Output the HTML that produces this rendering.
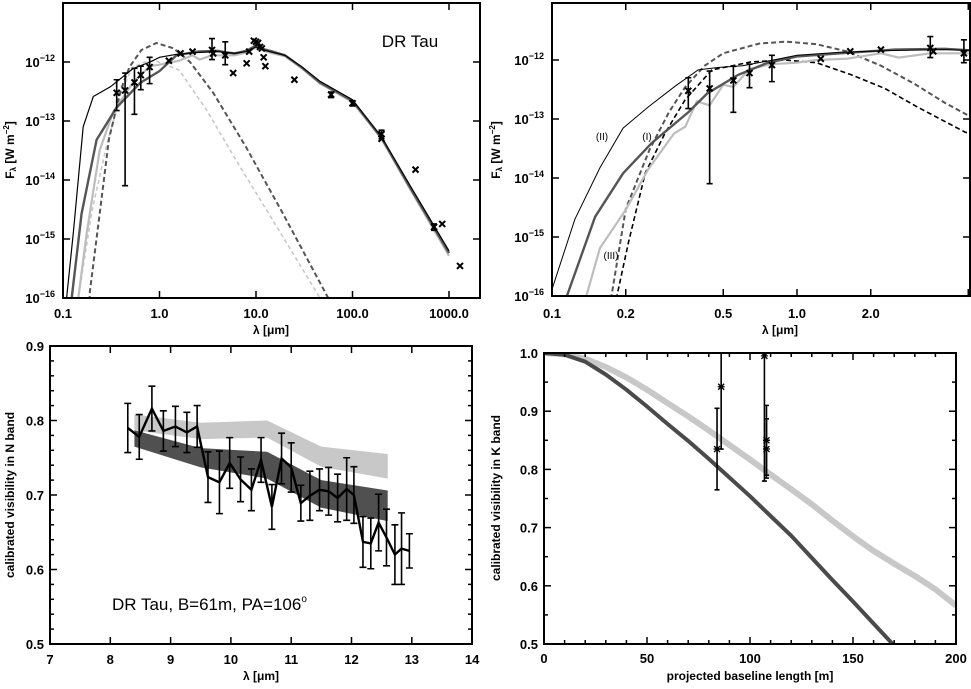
<!DOCTYPE html>
<html><head><meta charset="utf-8"><style>
body{margin:0;background:#fff}
svg{display:block}
text{font-family:"Liberation Sans",sans-serif;fill:#000}
.tk{font-size:13px;font-weight:bold}
.ti{font-size:12px;font-weight:bold}
</style></head><body>
<svg id="fig" width="971" height="689" viewBox="0 0 971 689" xmlns="http://www.w3.org/2000/svg">
<defs>
<clipPath id="c1"><rect x="63" y="3" width="417" height="295"/></clipPath>
<clipPath id="c2"><rect x="552" y="3" width="418" height="293"/></clipPath>
<clipPath id="c3"><rect x="50" y="346" width="422" height="298"/></clipPath>
<clipPath id="c4"><rect x="544" y="353" width="412" height="291"/></clipPath>
</defs>
</svg>
<script>
// ---------- DATA ----------
const sedLam = [0.36,0.44,0.55,0.64,0.79,1.25,1.65,2.2,3.5,3.6,4.8,5.8,8,8.5,9.5,10,10.5,11,11.5,12,12.5,25,60,100,200,200,450,700,850,1300];
const sedFlux = [3e-13,3.3e-13,4.5e-13,6e-13,8.2e-13,1.05e-12,1.4e-12,1.5e-12,1.6e-12,1.4e-12,1.3e-12,6.5e-13,9.5e-13,1.5e-12,2.3e-12,2.2e-12,2.1e-12,1.8e-12,1.7e-12,1.2e-12,8.5e-13,5e-13,2.8e-13,2e-13,6e-14,5e-14,1.5e-14,1.6e-15,1.8e-15,3.5e-16];
const sedErrLo = [1.5e-13,8e-15,1.3e-13,3.4e-13,4.3e-13,null,null,null,1.1e-12,null,9e-13,null,null,null,null,null,null,null,null,null,null,null,2.5e-13,1.8e-13,5e-14,null,null,1.4e-15,null,null];
const sedErrHi = [5e-13,6.5e-13,7.8e-13,8.5e-13,1.2e-12,null,null,null,2.5e-12,null,2.2e-12,null,null,null,null,null,null,null,null,null,null,null,3.1e-13,2.2e-13,7e-14,null,null,1.8e-15,null,null];

// panel 1 model lines
const p1IILam = [0.1,0.109,0.128,0.162,0.206,0.31,0.53,0.8,1.0,1.5,2.5,4,5,6,8,10,12,15,20,30,46,100,200,400,1000];
const p1II  = [1e-17,1e-16,1.26e-15,8e-14,2.6e-13,3.8e-13,7.7e-13,1e-12,1.2e-12,1.35e-12,1.45e-12,1.5e-12,1.45e-12,1.4e-12,1.5e-12,1.8e-12,1.6e-12,1.45e-12,1.3e-12,8.3e-13,4.7e-13,2.3e-13,5.4e-14,7.8e-15,6.3e-16];
const p1ILam = [0.115,0.123,0.156,0.223,0.36,0.63,1.0,1.5,2.5,4,5,6,8,10,12,15,20,30,46,100,200,400,1000];
const p1I   = [1e-17,1e-16,2.7e-15,4.8e-14,1.7e-13,4.4e-13,7e-13,1.3e-12,1.5e-12,1.55e-12,1.45e-12,1.4e-12,1.55e-12,1.9e-12,1.65e-12,1.5e-12,1.3e-12,8e-13,4.5e-13,2.2e-13,5.2e-14,7.2e-15,5.8e-16];
const p1IIILam = [0.135,0.144,0.176,0.24,0.33,0.53,0.8,1.0,1.6,2.2,2.6,3.5,5,6,8,10,12,15,20,30,46,100,200,400,1000];
const p1III = [1e-17,1e-16,1.26e-15,3.2e-14,1.4e-13,4.5e-13,8.5e-13,9e-13,1.05e-12,1.3e-12,1.1e-12,1.3e-12,1.3e-12,1.3e-12,1.45e-12,1.75e-12,1.55e-12,1.4e-12,1.25e-12,7.8e-13,4.3e-13,2.1e-13,5e-14,6.8e-15,5.2e-16];

// panel 2 model lines
const modLam = [0.1,0.124,0.157,0.195,0.247,0.318,0.395,0.48,0.6,0.8,1.0,1.5,2.5,4,5.2];
const modII  = [1.3e-16,2e-15,1.5e-14,7e-14,1.6e-13,3.6e-13,6.8e-13,7.5e-13,8e-13,1e-12,1.2e-12,1.35e-12,1.45e-12,1.5e-12,1.45e-12];
const modILam = [0.115,0.15,0.195,0.255,0.36,0.43,0.575,0.76,1.0,1.5,2.5,4,5.2];
const modI   = [1e-16,2.2e-15,1.2e-14,3.9e-14,1.3e-13,2.7e-13,5.6e-13,9e-13,1.15e-12,1.3e-12,1.5e-12,1.55e-12,1.45e-12];
const modIIILam = [0.138,0.157,0.2,0.247,0.315,0.35,0.39,0.44,0.5,0.55,0.64,0.78,1.0,1.2,1.6,2.2,2.6,3.5,5.2];
const modIII = [1e-16,6.5e-16,2.9e-15,1.4e-14,5.7e-14,7.4e-14,2e-13,1.7e-13,3.8e-13,3.5e-13,7e-13,8.5e-13,9e-13,1e-12,1.05e-12,1.3e-12,1.1e-12,1.3e-12,1.3e-12];

const dashDarkLam = [0.18,0.19,0.24,0.3,0.4,0.49,0.65,0.93,1.4,2.07,3.6,7.9,19,56];
const dashDark  = [1e-17,1.3e-16,2.7e-15,5e-14,3.5e-13,8.3e-13,1.6e-12,2.1e-12,1.7e-12,1e-12,3e-13,3.6e-14,2.7e-15,1e-16];
const dashLightLam = [0.135,0.144,0.2,0.28,0.4,0.52,0.7,0.9,1.6,3.1,6.8,17.8,46];
const dashLight = [1e-17,1e-16,3e-15,3.6e-14,3e-13,8e-13,1e-12,1.05e-12,7.3e-13,1.5e-13,1.7e-14,1.3e-15,1e-16];

const p2DashBlackLam = [0.175,0.184,0.205,0.24,0.289,0.349,0.449,0.65,0.89,1.2,1.67,2.28,3.1,4.85,5.2];
const p2DashBlack = [1e-17,1e-16,8e-16,1.2e-14,5.7e-14,2.1e-13,6.8e-13,9.3e-13,1e-12,9e-13,5.6e-13,3.3e-13,1.6e-13,6e-14,5.5e-14];
const p2DashGrayLam = [0.165,0.175,0.2,0.25,0.3,0.35,0.42,0.5,0.7,0.9,1.2,1.6,2.2,3,4,5.2];
const p2DashGray = [1e-17,1e-16,3e-15,3e-14,1.3e-13,3.5e-13,8e-13,1.3e-12,1.9e-12,2.05e-12,1.85e-12,1.4e-12,8e-13,4e-13,1.9e-13,1.05e-13];

const nLam = [8.29,8.48,8.69,8.88,9.08,9.27,9.44,9.62,9.81,9.98,10.16,10.34,10.50,10.68,10.84,11.0,11.16,11.31,11.47,11.62,11.77,11.92,12.04,12.19,12.32,12.45,12.58,12.72,12.83,12.96];
const nVis = [0.790,0.778,0.816,0.786,0.792,0.784,0.792,0.724,0.717,0.743,0.721,0.707,0.747,0.684,0.749,0.737,0.689,0.699,0.707,0.705,0.696,0.708,0.700,0.637,0.635,0.663,0.643,0.620,0.628,0.625];
const nErr = [0.033,0.03,0.03,0.027,0.027,0.027,0.028,0.034,0.042,0.034,0.03,0.028,0.03,0.03,0.034,0.033,0.024,0.033,0.028,0.032,0.032,0.042,0.038,0.034,0.034,0.038,0.038,0.04,0.048,0.023];
const bandLam = [8.4,9.5,10.6,11.5,12.6];
const lightHi = [0.808,0.797,0.800,0.765,0.755];
const lightLo = [0.787,0.775,0.777,0.738,0.722];
const darkHi = [0.787,0.763,0.758,0.720,0.706];
const darkLo = [0.765,0.737,0.722,0.683,0.665];

const kBase = [0,10,20,30,40,50,60,70,80,90,100,110,120,130,140,150,160,170,180,190,200];
const kDark = [1.0,0.997,0.985,0.963,0.937,0.908,0.878,0.849,0.818,0.786,0.754,0.72,0.686,0.648,0.61,0.573,0.535,0.497,0.46,0.42,0.38];
const kLight = [1.0,0.998,0.99,0.976,0.958,0.937,0.914,0.891,0.867,0.842,0.817,0.791,0.766,0.74,0.712,0.685,0.66,0.638,0.617,0.594,0.566];
const kPtB = [84,86,107,108,108];
const kPtV = [0.835,0.942,0.995,0.85,0.835];
const kPtLo = [0.765,0.835,0.78,0.79,0.785];
const kPtHi = [0.905,1.05,1.05,0.91,0.887];

// ---------- helpers ----------
const NS='http://www.w3.org/2000/svg';
const svg=document.getElementById('fig');
function mk(tag,attrs,parent){const e=document.createElementNS(NS,tag);for(const k in attrs)e.setAttribute(k,attrs[k]);(parent||svg).appendChild(e);return e;}
const L=Math.log10;
const sx1=l=>63+(L(l)+1)*96.5, sy1=f=>62+(-12-L(f))*59;
const sx2=l=>552+(L(l)+1)*245, sy2=f=>60+(-12-L(f))*59;
const sx3=l=>50+(l-7)*60.3, sy3=v=>346+(0.9-v)*745;
const sx4=b=>544+b*2.06, sy4=v=>644-(v-0.5)*582;
function pathOf(xs,ys,fx,fy){return xs.map((x,i)=>(i?'L':'M')+fx(x).toFixed(1)+','+fy(ys[i]).toFixed(1)).join('');}
function box(x0,y0,x1,y1,name){const r=mk('rect',{x:x0,y:y0,width:x1-x0,height:y1-y0,fill:'none',stroke:'#000','stroke-width':2});}
function tickX(px,y0,y1,len){mk('line',{x1:px,x2:px,y1:y1,y2:y1-len,stroke:'#000','stroke-width':1.5});mk('line',{x1:px,x2:px,y1:y0,y2:y0+len,stroke:'#000','stroke-width':1.5});}
function tickY(py,x0,x1,len){mk('line',{x1:x0,x2:x0+len,y1:py,y2:py,stroke:'#000','stroke-width':1.5});mk('line',{x1:x1,x2:x1-len,y1:py,y2:py,stroke:'#000','stroke-width':1.5});}
function txt(x,y,s,cls,anchor,name){const t=mk('text',{x:x,y:y,'class':cls,'text-anchor':anchor||'middle'});t.textContent=s;return t;}
function powLabel(x,y,e,name){const t=mk('text',{x:x,y:y,'class':'tk','text-anchor':'end'});
 const a=mk('tspan',{},t);a.textContent='10';const b=mk('tspan',{dy:-6,'font-size':'9px'},t);b.textContent='\u2212'+e;}
function vtitle(x,y,s,name){const t=mk('text',{x:x,y:y,'class':'ti','text-anchor':'middle',transform:'rotate(-90 '+x+' '+y+')'});t.textContent=s;return t;}
function cross(g,x,y,s){mk('path',{d:`M${x-s},${y-s}L${x+s},${y+s}M${x-s},${y+s}L${x+s},${y-s}`,stroke:'#000','stroke-width':2},g);}
function ebar(g,x,y0,y1,c){mk('path',{d:`M${x},${y0}L${x},${y1}M${x-c},${y0}L${x+c},${y0}M${x-c},${y1}L${x+c},${y1}`,stroke:'#000','stroke-width':1.6,fill:'none'},g);}

// ---------- Panel 1 ----------
{
 const g=mk('g',{'clip-path':'url(#c1)'});
 
 
 let p;
 p=mk('path',{d:pathOf(dashLightLam,dashLight,sx1,sy1),stroke:'#c8c8c8','stroke-width':1.6,fill:'none','stroke-dasharray':'4,3'},g);
 
 p=mk('path',{d:pathOf(dashDarkLam,dashDark,sx1,sy1),stroke:'#555','stroke-width':2,fill:'none','stroke-dasharray':'5,3'},g);
 
 p=mk('path',{d:pathOf(p1IIILam,p1III,sx1,sy1),stroke:'#bdbdbd','stroke-width':2.2,fill:'none'},g);
 
 p=mk('path',{d:pathOf(p1ILam,p1I,sx1,sy1),stroke:'#555','stroke-width':2.4,fill:'none'},g);
 
 p=mk('path',{d:pathOf(p1IILam,p1II,sx1,sy1),stroke:'#000','stroke-width':1.2,fill:'none'},g);
 
 sedLam.forEach((l,i)=>{const x=sx1(l);if(sedErrLo[i])ebar(g,x,sy1(sedErrLo[i]),sy1(sedErrHi[i]),3);cross(g,x,sy1(sedFlux[i]),3);});
 box(63,3,480,298,'sed-frame');
 [0.1,1,10,100,1000].forEach((l,i)=>{tickX(sx1(l),3,298,7);txt(sx1(l),318,['0.1','1.0','10.0','100.0','1000.0'][i],'tk','middle','x-tick-label');});
 [12,13,14,15,16].forEach(e=>{tickY(sy1(Math.pow(10,-e)),63,480,7);powLabel(55,sy1(Math.pow(10,-e))+5,e,'y-tick-label');});
 txt(271,334,'\u03bb  [\u03bcm]','ti','middle','x-axis-title');
 const t=vtitle(14,150,'','y-axis-title');const a=mk('tspan',{},t);a.textContent='F';const b=mk('tspan',{'font-size':'8px',dy:2},t);b.textContent='\u03bb';const c=mk('tspan',{dy:-2},t);c.textContent=' [W m';const d=mk('tspan',{dy:-5,'font-size':'8px'},t);d.textContent='\u22122';const e=mk('tspan',{dy:5},t);e.textContent=']';
 const lab=txt(410,47,'DR Tau','','middle','object-label');lab.setAttribute('font-size','17');
}
// ---------- Panel 2 ----------
{
 const g=mk('g',{'clip-path':'url(#c2)'});
 
 
 let p;
 p=mk('path',{d:pathOf(p2DashGrayLam,p2DashGray,sx2,sy2),stroke:'#555','stroke-width':2,fill:'none','stroke-dasharray':'5,3'},g);
 
 p=mk('path',{d:pathOf(p2DashBlackLam,p2DashBlack,sx2,sy2),stroke:'#000','stroke-width':1.6,fill:'none','stroke-dasharray':'5,3'},g);
 
 p=mk('path',{d:pathOf(modIIILam,modIII,sx2,sy2),stroke:'#bdbdbd','stroke-width':2.2,fill:'none'},g);
 
 p=mk('path',{d:pathOf(modILam,modI,sx2,sy2),stroke:'#555','stroke-width':2.4,fill:'none'},g);
 
 p=mk('path',{d:pathOf(modLam,modII,sx2,sy2),stroke:'#000','stroke-width':1,fill:'none'},g);
 
 sedLam.forEach((l,i)=>{if(l>6)return;const x=sx2(l);if(sedErrLo[i])ebar(g,x,sy2(sedErrLo[i]),sy2(sedErrHi[i]),3);cross(g,x,sy2(sedFlux[i]),3);});
 box(552,3,970,296,'sed-zoom-frame');
 [0.1,0.2,0.5,1,2,5].forEach((l,i)=>{tickX(sx2(l),3,296,7);if(i<5)txt(sx2(l),318,['0.1','0.2','0.5','1.0','2.0'][i],'tk','middle','x-tick-label');});
 [12,13,14,15,16].forEach(e=>{tickY(sy2(Math.pow(10,-e)),552,970,7);powLabel(544,sy2(Math.pow(10,-e))+5,e,'y-tick-label');});
 txt(780,334,'\u03bb  [\u03bcm]','ti','middle','x-axis-title');
 const t=vtitle(500,150,'','y-axis-title');const a=mk('tspan',{},t);a.textContent='F';const b=mk('tspan',{'font-size':'8px',dy:2},t);b.textContent='\u03bb';const c=mk('tspan',{dy:-2},t);c.textContent=' [W m';const d=mk('tspan',{dy:-5,'font-size':'8px'},t);d.textContent='\u22122';const e=mk('tspan',{dy:5},t);e.textContent=']';
 [['(II)',602,140],['(I)',647,140],['(III)',611,259]].forEach(v=>{const q=txt(v[1],v[2],v[0],'','middle','model-label');q.setAttribute('font-size','10');q.setAttribute('fill','#999');});
}
// ---------- Panel 3 ----------
{
 const g=mk('g',{'clip-path':'url(#c3)'});
 
 
 let p;
 p=mk('path',{d:pathOf(bandLam,lightHi,sx3,sy3)+pathOf(bandLam.slice().reverse(),lightLo.slice().reverse(),sx3,sy3).replace('M','L')+'Z',fill:'#c8c8c8'},g);
 
 p=mk('path',{d:pathOf(bandLam,darkHi,sx3,sy3)+pathOf(bandLam.slice().reverse(),darkLo.slice().reverse(),sx3,sy3).replace('M','L')+'Z',fill:'#505050'},g);
 
 nLam.forEach((l,i)=>ebar(g,sx3(l),sy3(nVis[i]-nErr[i]),sy3(nVis[i]+nErr[i]),3.5));
 p=mk('path',{d:pathOf(nLam,nVis,sx3,sy3),stroke:'#000','stroke-width':2.4,fill:'none'},g);
 
 box(50,346,472,644,'n-band-frame');
 for(let v=7;v<=14;v++){tickX(sx3(v),346,644,7);txt(sx3(v),664,String(v),'tk','middle','x-tick-label');}
 for(let k=0;k<=20;k++){const v=0.5+k*0.02;tickY(sy3(v),50,472,k%5===0?7:4);}
 [0.5,0.6,0.7,0.8,0.9].forEach(v=>txt(44,sy3(v)+5,v.toFixed(1),'tk','end','y-tick-label'));
 txt(261,680,'\u03bb [\u03bcm]','ti','middle','x-axis-title');
 vtitle(14,495,'calibrated visibility in N band','y-axis-title');
 const t=txt(112,610,'DR Tau, B=61m, PA=106','','start','annotation');t.setAttribute('font-size','17');
 const s=mk('tspan',{dy:-8,'font-size':'10px'},t);s.textContent='o';
}
// ---------- Panel 4 ----------
{
 const g=mk('g',{'clip-path':'url(#c4)'});
 
 
 let p;
 p=mk('path',{d:pathOf(kBase,kLight,sx4,sy4),stroke:'#c8c8c8','stroke-width':6,fill:'none','stroke-linejoin':'round'},g);
 
 p=mk('path',{d:pathOf(kBase,kDark,sx4,sy4),stroke:'#4a4a4a','stroke-width':4,fill:'none','stroke-linejoin':'round'},g);
 
 kPtB.forEach((b,i)=>{const x=sx4(b);ebar(g,x,sy4(kPtLo[i]),sy4(kPtHi[i]),2.5);const y=sy4(kPtV[i]);mk('path',{d:`M${x-3},${y-3}L${x+3},${y+3}M${x-3},${y+3}L${x+3},${y-3}M${x-3.5},${y}L${x+3.5},${y}M${x},${y-3.5}L${x},${y+3.5}`,stroke:'#000','stroke-width':1.3},g);});
 box(544,353,956,644,'k-band-frame');
 for(let b=0;b<=200;b+=10)tickX(sx4(b),353,644,b%50===0?7:4);
 [0,50,100,150,200].forEach(b=>txt(sx4(b),663,String(b),'tk','middle','x-tick-label'));
 for(let k=0;k<=10;k++){const v=0.5+k*0.05;tickY(sy4(v),544,956,k%2===0?7:4);}
 [0.5,0.6,0.7,0.8,0.9,1.0].forEach(v=>txt(538,sy4(v)+5,v.toFixed(1),'tk','end','y-tick-label'));
 txt(750,680,'projected baseline length [m]','ti','middle','x-axis-title');
 vtitle(500,498,'calibrated visibility in K band','y-axis-title');
}
</script>
</body></html>
